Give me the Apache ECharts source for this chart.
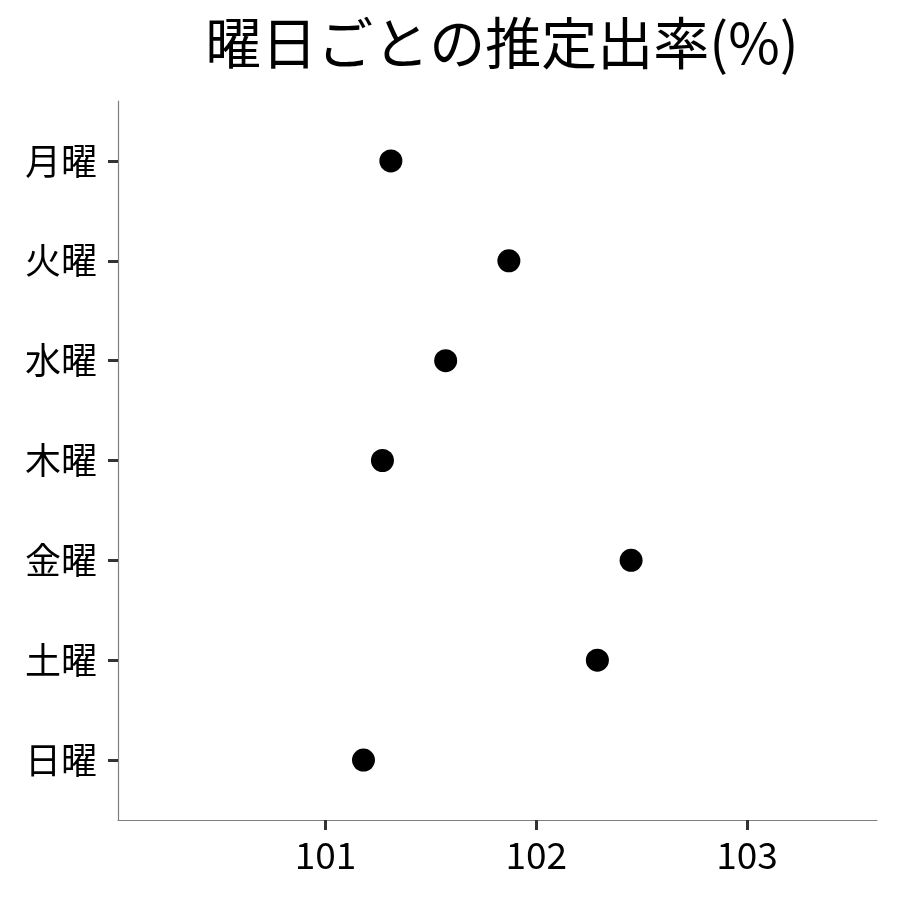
<!DOCTYPE html>
<html>
<head>
<meta charset="utf-8">
<script src="https://cdn.jsdelivr.net/npm/echarts@6/dist/echarts.min.js"></script>
<style>
  html, body { margin: 0; padding: 0; background: #fff; }
  #chart { width: 900px; height: 900px; }
</style>
</head>
<body>
<div id="chart"></div>
<script>
const days = ['月曜', '火曜', '水曜', '木曜', '金曜', '土曜', '日曜'];
const rates = [101.31, 101.87, 101.57, 101.27, 102.45, 102.29, 101.18];
const xTicks = [101, 102, 103];
const titleText = '曜日ごとの推定出率(%)';

const font = '"Noto Sans CJK JP", "Noto Sans", sans-serif';
const chart = echarts.init(document.getElementById('chart'));

const points = rates.map((v, i) => [v, i]);
const dayIdx = days.map((d, i) => i);

chart.setOption({
  animation: false,
  backgroundColor: '#fff',
  title: {
    text: titleText,
    left: 497,
    top: 10,
    textAlign: 'center',
    textStyle: { fontFamily: font, fontSize: 56, fontWeight: 'normal', color: '#000' }
  },
  grid: { left: 118, right: 23, top: 101, bottom: 80 },
  xAxis: {
    type: 'value',
    min: 100.015,
    max: 103.617,
    axisLine: { show: true, onZero: false, lineStyle: { color: '#7f7f7f', width: 1.2 } },
    axisTick: { show: true, length: 10, customValues: xTicks, lineStyle: { color: '#333', width: 3 } },
    axisLabel: {
      customValues: xTicks,
      margin: 16,
      fontFamily: font,
      fontSize: 37,
      color: '#000'
    },
    splitLine: { show: false }
  },
  yAxis: {
    type: 'value',
    inverse: true,
    min: -0.6,
    max: 6.6,
    axisLine: { show: true, onZero: false, lineStyle: { color: '#7f7f7f', width: 1.2 } },
    axisTick: { show: true, length: 10, customValues: dayIdx, lineStyle: { color: '#333', width: 3 } },
    axisLabel: {
      customValues: dayIdx,
      formatter: v => days[Math.round(v)],
      margin: 21,
      fontFamily: font,
      fontSize: 36,
      color: '#000'
    },
    splitLine: { show: false }
  },
  series: [{
    type: 'scatter',
    data: points,
    symbol: 'circle',
    symbolSize: 23,
    itemStyle: { color: '#000', opacity: 1 }
  }]
});
</script>
</body>
</html>
